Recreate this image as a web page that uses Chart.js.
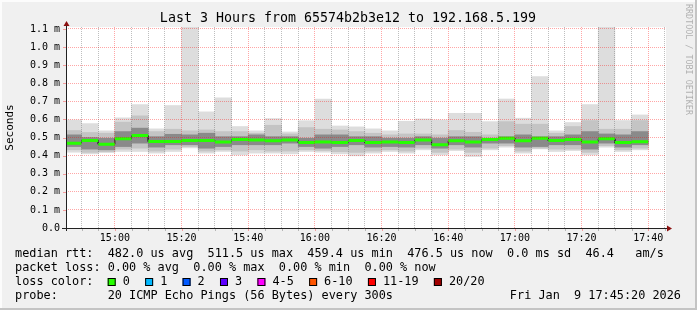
<!DOCTYPE html>
<html>
<head>
<meta charset="utf-8">
<script src="https://cdn.jsdelivr.net/npm/chart.js@4.4.1/dist/chart.umd.min.js"></script>
<style>
  html, body { margin: 0; padding: 0; background: #f0f0f0; }
  #wrap { width: 697px; height: 310px; }
</style>
</head>
<body>
<div id="wrap"><canvas id="chart" width="697" height="310"></canvas></div>
<script>
// 5 minute bins (300s steps), start time of each bin
const bins = ['14:45','14:50','14:55','15:00','15:05','15:10','15:15','15:20','15:25','15:30',
  '15:35','15:40','15:45','15:50','15:55','16:00','16:05','16:10','16:15','16:20',
  '16:25','16:30','16:35','16:40','16:45','16:50','16:55','17:00','17:05','17:10',
  '17:15','17:20','17:25','17:30','17:35'];

// values in ms ("m" on the axis)
const maxRtt = [0.597,0.577,0.537,0.609,0.682,0.548,0.677,1.200,0.642,0.719,
  0.561,0.537,0.605,0.531,0.593,0.713,0.564,0.559,0.548,0.537,
  0.590,0.603,0.597,0.634,0.634,0.588,0.713,0.607,0.837,0.537,
  0.583,0.682,1.200,0.594,0.625];
const hiRtt = [0.539,0.528,0.524,0.585,0.620,0.533,0.546,0.537,0.542,0.533,
  0.533,0.524,0.568,0.520,0.555,0.546,0.542,0.533,0.524,0.515,
  0.520,0.520,0.515,0.539,0.529,0.515,0.588,0.574,0.574,0.524,
  0.561,0.594,0.546,0.546,0.594];
const darkHiRtt = [0.515,0.500,0.496,0.533,0.552,0.505,0.518,0.515,0.524,0.505,
  0.505,0.515,0.505,0.505,0.496,0.515,0.515,0.505,0.505,0.496,
  0.496,0.505,0.496,0.505,0.505,0.496,0.505,0.515,0.505,0.505,
  0.515,0.533,0.520,0.515,0.533];
const medianRtt = [0.469,0.483,0.463,0.493,0.511,0.478,0.478,0.483,0.483,0.476,
  0.489,0.487,0.482,0.487,0.472,0.476,0.472,0.483,0.472,0.476,
  0.472,0.487,0.460,0.482,0.476,0.489,0.496,0.482,0.496,0.483,
  0.489,0.476,0.493,0.472,0.4765];
const darkLoRtt = [0.450,0.436,0.432,0.450,0.469,0.447,0.460,0.460,0.441,0.450,
  0.460,0.460,0.460,0.469,0.450,0.441,0.450,0.460,0.447,0.450,
  0.447,0.460,0.441,0.460,0.447,0.469,0.469,0.447,0.450,0.460,
  0.460,0.436,0.469,0.447,0.460];
const loRtt = [0.432,0.418,0.422,0.436,0.441,0.425,0.436,0.450,0.425,0.432,
  0.425,0.432,0.425,0.425,0.432,0.428,0.422,0.418,0.425,0.432,
  0.425,0.441,0.418,0.436,0.418,0.441,0.455,0.425,0.441,0.436,
  0.436,0.418,0.455,0.432,0.441];
const minRtt = [0.419,0.410,0.417,0.423,0.423,0.414,0.423,0.443,0.414,0.423,
  0.404,0.414,0.414,0.410,0.423,0.419,0.410,0.399,0.414,0.423,
  0.414,0.432,0.404,0.428,0.395,0.432,0.447,0.414,0.437,0.423,
  0.428,0.404,0.447,0.423,0.432];

const yTicks = [0, 0.1, 0.2, 0.3, 0.4, 0.5, 0.6, 0.7, 0.8, 0.9, 1.0, 1.1];
const xTickLabels = ['15:00','15:20','15:40','16:00','16:20','16:40','17:00','17:20','17:40'];

const lossLabels = ['0','1','2','3','4-5','6-10','11-19','20/20'];
const lossColors = ['#26ff00','#00b8ff','#0059ff','#5e00ff','#ff00ff','#ff5500','#ff0000','#a10000'];

const legendRows = [
  'median rtt:  482.0 us avg  511.5 us max  459.4 us min  476.5 us now  0.0 ms sd  46.4   am/s',
  'packet loss: 0.00 % avg  0.00 % max  0.00 % min  0.00 % now',
  'loss color:',
  'probe:       20 ICMP Echo Pings (56 Bytes) every 300s'
];
const stamp = 'Fri Jan  9 17:45:20 2026';

const toMin = s => { const p = s.split(':').map(Number); return p[0] * 60 + p[1]; };
const fmt = v => String(Math.floor(v / 60)).padStart(2, '0') + ':' + String(v % 60).padStart(2, '0');

const startTime = 14 * 60 + 45 + 20 / 60;  // 14:45:20
const endTime = startTime + 180;           // 17:45:20
const binStart = bins.map(toMin);
const step = 5;

const smoke = (lo, hi) => binStart.map((t, i) => ({ x: t + step / 2, y: [lo[i], hi[i]] }));

const medianGreen = [];
const medianDark = [];
binStart.forEach((t, i) => {
  medianGreen.push({ x: t, y: medianRtt[i] }, { x: t + step, y: medianRtt[i] }, { x: t + step, y: null });
  medianDark.push({ x: t, y: medianRtt[i] }, { x: t + step, y: medianRtt[i] });
});

const MONO = '"DejaVu Sans Mono", monospace';
const MAJOR = 'rgba(255, 0, 0, 0.35)';
const MINOR = 'rgba(110, 110, 110, 0.45)';
const isMajor = v => Math.abs(v % 20) < 1e-6;

const rrdPlugin = {
  id: 'rrd',
  beforeDraw(chart) {
    const { ctx, chartArea: a } = chart;
    ctx.save();
    ctx.fillStyle = '#f0f0f0';
    ctx.fillRect(0, 0, chart.width, chart.height);
    ctx.fillStyle = '#ffffff';
    ctx.fillRect(a.left, a.top, a.right - a.left, a.bottom - a.top);
    ctx.restore();
  },
  afterDraw(chart) {
    const { ctx, chartArea: a } = chart;
    const xs = chart.scales.x, ys = chart.scales.y;
    ctx.save();

    // tick marks outside the plot
    xs.ticks.forEach(t => {
      const px = Math.round(xs.getPixelForValue(t.value)) + 0.5;
      ctx.strokeStyle = isMajor(t.value) ? MAJOR : MINOR;
      ctx.beginPath(); ctx.moveTo(px, a.bottom); ctx.lineTo(px, a.bottom + 3); ctx.stroke();
    });
    ys.ticks.forEach(t => {
      const py = Math.round(ys.getPixelForValue(t.value)) + 0.5;
      ctx.strokeStyle = MAJOR;
      ctx.beginPath(); ctx.moveTo(a.left - 3, py); ctx.lineTo(a.left, py); ctx.stroke();
    });

    // axes with arrows
    const ax = Math.round(a.left) + 0.5, ay = Math.round(a.bottom) + 0.5;
    ctx.strokeStyle = '#222';
    ctx.lineWidth = 1;
    ctx.beginPath();
    ctx.moveTo(a.left - 4, ay); ctx.lineTo(a.right + 1, ay);
    ctx.moveTo(ax, a.bottom + 3); ctx.lineTo(ax, a.top - 1);
    ctx.stroke();
    ctx.fillStyle = '#8b1010';
    ctx.beginPath();
    ctx.moveTo(ax - 3, a.top - 1); ctx.lineTo(ax + 3, a.top - 1); ctx.lineTo(ax, a.top - 6); ctx.closePath(); ctx.fill();
    ctx.beginPath();
    ctx.moveTo(a.right + 1, ay - 3); ctx.lineTo(a.right + 1, ay + 3); ctx.lineTo(a.right + 6, ay); ctx.closePath(); ctx.fill();

    // title
    ctx.fillStyle = '#000';
    ctx.font = '13.3px ' + MONO;
    ctx.textAlign = 'center';
    ctx.textBaseline = 'middle';
    ctx.fillText('Last 3 Hours from 65574b2b3e12 to 192.168.5.199', 348, 19);

    // watermark
    ctx.save();
    ctx.translate(688, 4);
    ctx.rotate(Math.PI / 2);
    ctx.font = '8.4px ' + MONO;
    ctx.fillStyle = 'rgba(0,0,0,0.28)';
    ctx.textAlign = 'left';
    ctx.fillText('RRDTOOL / TOBI OETIKER', 0, 0);
    ctx.restore();

    // legend rows
    ctx.font = '11.85px ' + MONO;
    ctx.textAlign = 'left';
    ctx.fillStyle = '#000';
    const rowY = [254, 268, 282, 296];
    legendRows.forEach((r, i) => ctx.fillText(r, 15, rowY[i]));
    const cw = ctx.measureText('0').width;
    let bx = 15 + cw * 13;
    lossLabels.forEach((lab, i) => {
      ctx.fillStyle = lossColors[i];
      ctx.fillRect(bx, rowY[2] - 4, 8, 8);
      ctx.strokeStyle = '#000';
      ctx.strokeRect(bx + 0.5, rowY[2] - 3.5, 7, 7);
      ctx.fillStyle = '#000';
      ctx.fillText(lab, bx + 15, rowY[2]);
      bx += 15 + ctx.measureText(lab).width + 15.3;
    });
    ctx.textAlign = 'right';
    ctx.fillText(stamp, 681, rowY[3]);

    // frame shade
    ctx.fillStyle = '#fcfcfc';
    ctx.fillRect(0, 0, chart.width, 2);
    ctx.fillRect(0, 0, 2, chart.height);
    ctx.fillStyle = '#c4c4c4';
    ctx.fillRect(chart.width - 2, 0, 2, chart.height);
    ctx.fillRect(0, chart.height - 2, chart.width, 2);
    ctx.restore();
  }
};

const barSet = (label, lo, hi, color, order) => ({
  type: 'bar', label, data: smoke(lo, hi), backgroundColor: color,
  borderWidth: 0, grouped: false, barPercentage: 1, categoryPercentage: 1, order
});

new Chart(document.getElementById('chart'), {
  data: {
    datasets: [
      { type: 'line', label: 'median', data: medianGreen, borderColor: '#26ff00', borderWidth: 3,
        borderCapStyle: 'butt', pointRadius: 0, spanGaps: false, order: 0 },
      { type: 'line', label: 'median step', data: medianDark, borderColor: '#202020', borderWidth: 1,
        pointRadius: 0, order: 1 },
      barSet('dark', darkLoRtt, darkHiRtt, '#8a8a8a', 2),
      barSet('mid', loRtt, hiRtt, '#c4c4c4', 3),
      barSet('outer', minRtt, maxRtt, '#dddddd', 4)
    ]
  },
  options: {
    responsive: false,
    animation: false,
    devicePixelRatio: 1,
    layout: { padding: { left: 0, right: 31, top: 27, bottom: 62 } },
    plugins: { legend: { display: false }, tooltip: { enabled: false } },
    scales: {
      x: {
        type: 'linear', min: startTime, max: endTime, offset: false,
        afterBuildTicks(scale) {
          const t = [];
          for (let v = binStart[1]; v <= endTime; v += step) t.push({ value: v });
          scale.ticks = t;
        },
        afterFit(scale) { scale.height = 20; },
        grid: {
          z: 1, drawTicks: false, lineWidth: 1, offset: false,
          color: c => (c.tick && isMajor(c.tick.value)) ? MAJOR : MINOR
        },
        border: { display: false, dash: [1, 1] },
        ticks: {
          autoSkip: false, maxRotation: 0, minRotation: 0, padding: 4,
          color: '#000', font: { family: MONO, size: 10 },
          callback: v => xTickLabels.includes(fmt(v)) ? fmt(v) : ''
        }
      },
      y: {
        min: 0, max: 1.111,
        afterBuildTicks(scale) { scale.ticks = yTicks.map(v => ({ value: v })); },
        afterFit(scale) { scale.width = 66; },
        grid: { z: 1, drawTicks: false, color: MAJOR },
        border: { display: false, dash: [1, 1] },
        ticks: {
          padding: 6, color: '#000', font: { family: MONO, size: 10 },
          callback: v => v === 0 ? '0.0' : v.toFixed(1) + ' m'
        },
        title: {
          display: true, text: 'Seconds', color: '#000',
          font: { family: MONO, size: 11 }, padding: { top: 4, bottom: 0 }
        }
      }
    }
  },
  plugins: [rrdPlugin]
});
</script>
</body>
</html>
